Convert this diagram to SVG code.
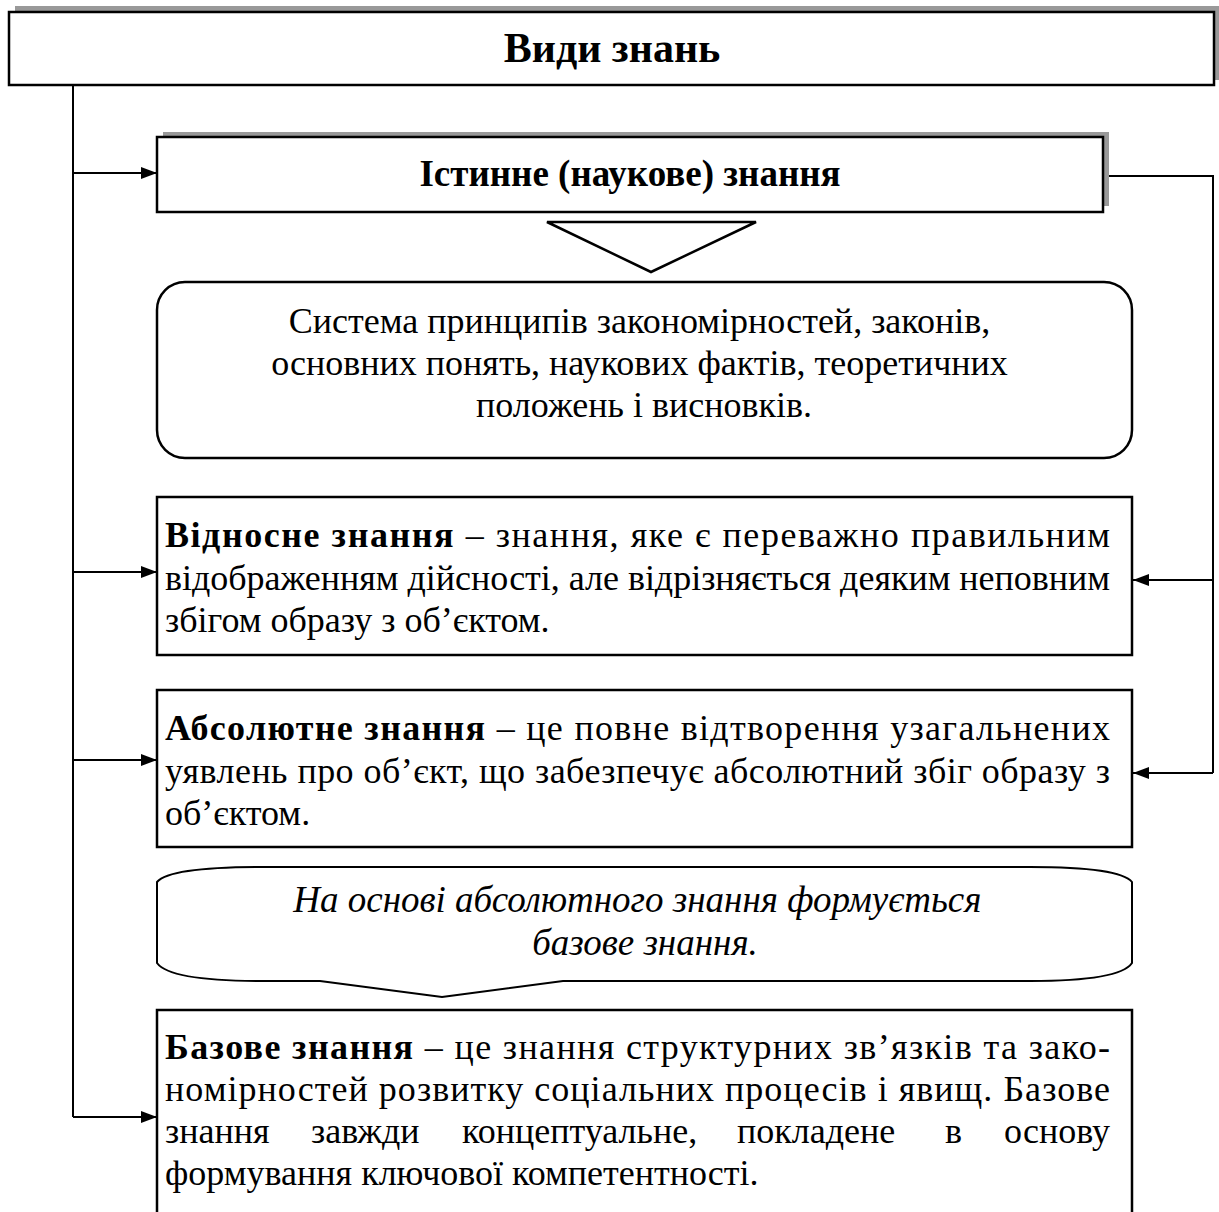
<svg xmlns="http://www.w3.org/2000/svg" width="1219" height="1212" viewBox="0 0 1219 1212">
<defs>
<style>
.box{fill:#fff;stroke:#000;stroke-width:2.5}
.shadow{fill:#999}
.line{fill:none;stroke:#000;stroke-width:2}
.t{font-family:"Liberation Serif","Times New Roman",serif;font-size:36px;fill:#000}
.b{font-weight:bold}
.i{font-style:italic;font-size:37px}
</style>
<marker id="arr" viewBox="0 0 16 12" refX="16" refY="6" markerWidth="16" markerHeight="12" markerUnits="userSpaceOnUse" orient="auto">
<path d="M0,0 L16,6 L0,12 Z" fill="#000"/>
</marker>
</defs>
<rect width="1219" height="1212" fill="#fff"/>

<g id="connectors">
<path class="line" d="M73,86 V1117"/>
<path class="line" d="M73,173 H157" marker-end="url(#arr)"/>
<path class="line" d="M73,572 H157" marker-end="url(#arr)"/>
<path class="line" d="M73,760 H157" marker-end="url(#arr)"/>
<path class="line" d="M73,1117 H157" marker-end="url(#arr)"/>
<path class="line" d="M1109,176 H1213 V773"/>
<path class="line" d="M1213,580 H1133" marker-end="url(#arr)"/>
<path class="line" d="M1213,773 H1133" marker-end="url(#arr)"/>
</g>

<g id="title">
<rect class="shadow" x="15" y="6" width="1204" height="74"/>
<rect class="box" x="9" y="12" width="1205" height="73"/>
<text class="t b" x="612" y="62" text-anchor="middle" style="font-size:42px">Види знань</text>
</g>

<g id="istynne">
<rect class="shadow" x="163" y="132" width="946" height="74"/>
<rect class="box" x="157" y="137" width="946" height="75"/>
<text class="t b" x="630" y="186" text-anchor="middle" style="font-size:37px">Істинне (наукове) знання</text>
</g>

<g id="triangle">
<path d="M547,222 H756 L651,272 Z" fill="#fff" stroke="#000" stroke-width="2.5" stroke-linejoin="miter"/>
</g>

<g id="system">
<rect class="box" x="157" y="282" width="975" height="176" rx="28" ry="28"/>
<text class="t" text-anchor="middle">
<tspan x="644" y="333">Система принципів закономірностей, законів,</tspan>
<tspan x="644" y="375">основних понять, наукових фактів, теоретичних</tspan>
<tspan x="644" y="417">положень і висновків.</tspan>
</text>
</g>

<g id="relative">
<rect class="box" x="157" y="497" width="975" height="158"/>
<text class="t" x="165" y="547" textLength="945" lengthAdjust="spacing"><tspan class="b">Відносне знання</tspan> – знання, яке є переважно правильним</text>
<text class="t" x="165" y="590" textLength="945" lengthAdjust="spacing">відображенням дійсності, але відрізняється деяким неповним</text>
<text class="t" x="165" y="632">збігом образу з об’єктом.</text>
</g>

<g id="absolute">
<rect class="box" x="157" y="690" width="975" height="157"/>
<text class="t" x="165" y="740" textLength="945" lengthAdjust="spacing"><tspan class="b">Абсолютне знання</tspan> – це повне відтворення узагальнених</text>
<text class="t" x="165" y="783" textLength="945" lengthAdjust="spacing">уявлень про об’єкт, що забезпечує абсолютний збіг образу з</text>
<text class="t" x="165" y="825">об’єктом.</text>
</g>

<g id="callout">
<path d="M157,882 Q170,867 262,867 H1030 Q1120,867 1132,882 V963 Q1120,981 1030,981 H563 L442,997 L320,981 H262 Q170,981 157,963 Z" fill="#fff" stroke="#000" stroke-width="2"/>
<text class="t i" text-anchor="middle">
<tspan x="642" y="912">На основі абсолютного знання формується</tspan>
<tspan x="645" y="955">базове знання.</tspan>
</text>
</g>

<g id="base">
<path class="box" d="M157,1212 V1010 H1132 V1212"/>
<text class="t" x="165" y="1059" textLength="945" lengthAdjust="spacing"><tspan class="b">Базове знання</tspan> – це знання структурних зв’язків та зако-</text>
<text class="t" x="165" y="1101" textLength="945" lengthAdjust="spacing">номірностей розвитку соціальних процесів і явищ. Базове</text>
<text class="t" y="1143"><tspan x="165">знання</tspan><tspan x="311">завжди</tspan><tspan x="462">концептуальне,</tspan><tspan x="737">покладене</tspan></text>
<text class="t" x="945" y="1143">в</text>
<text class="t" x="1110" y="1143" text-anchor="end">основу</text>
<text class="t" x="165" y="1185">формування ключової компетентності.</text>
</g>
</svg>
